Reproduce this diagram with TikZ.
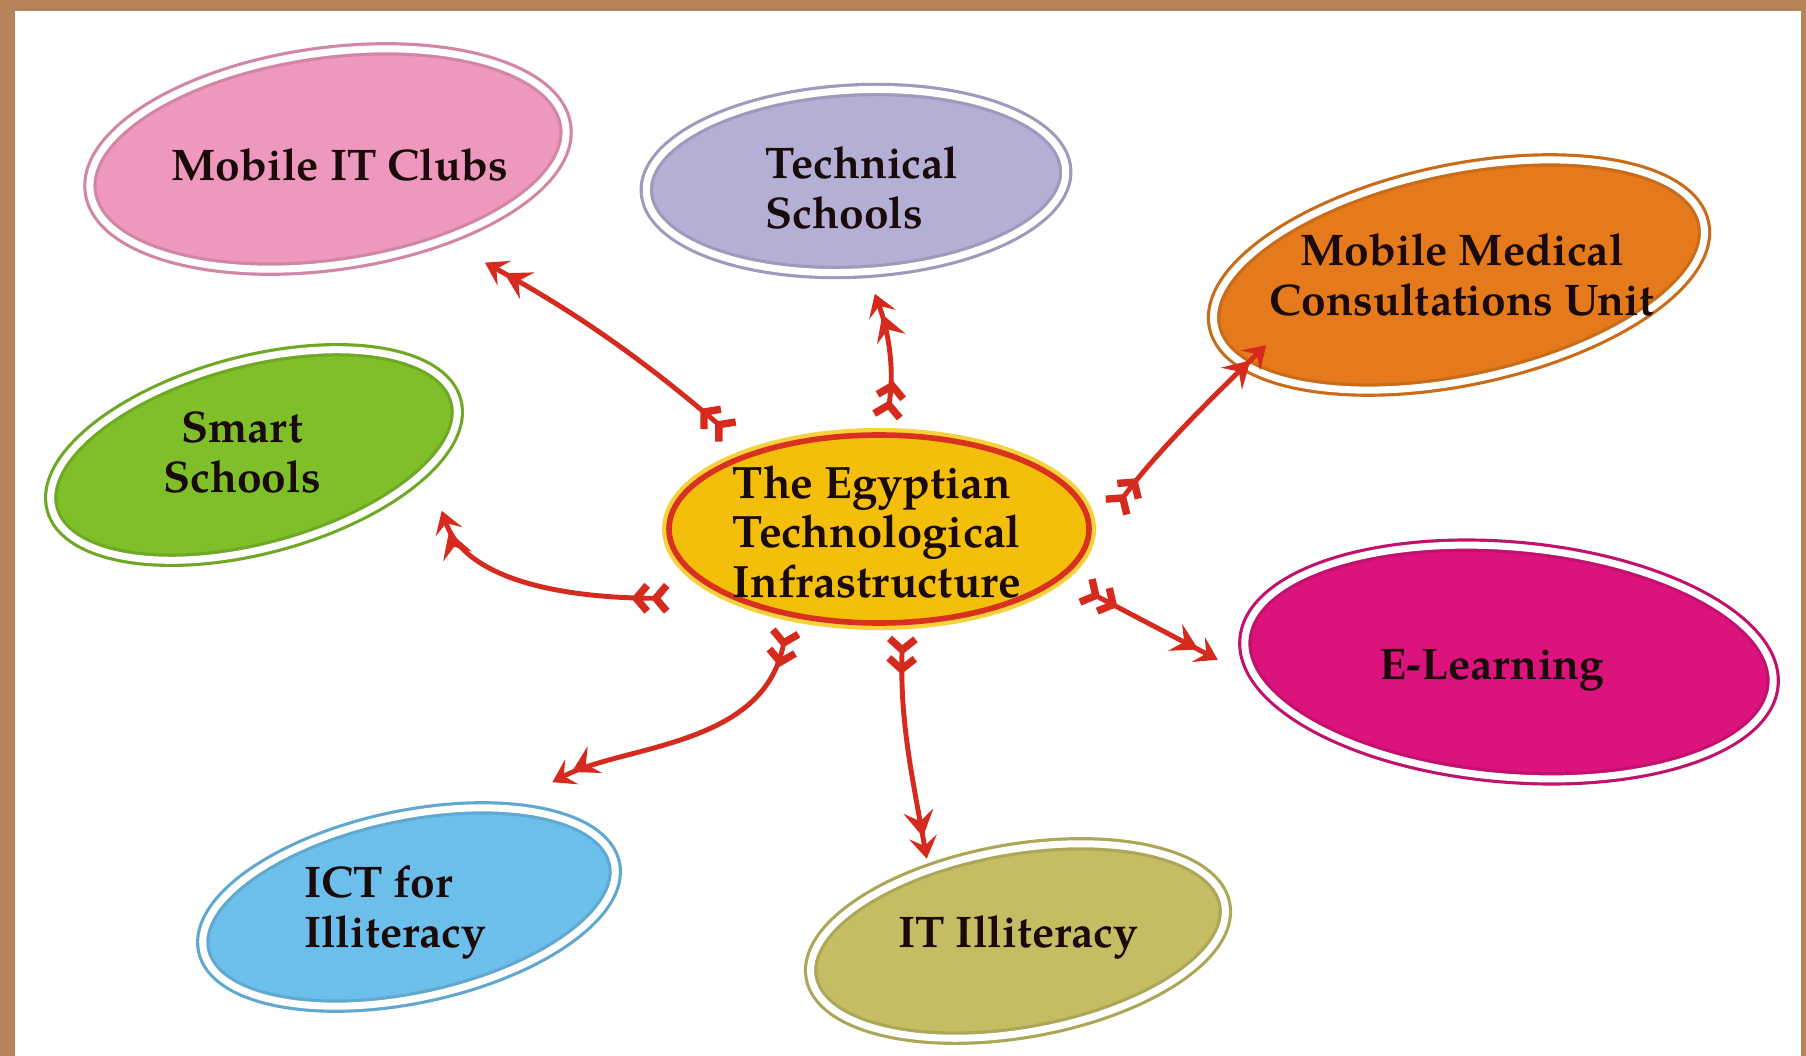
\documentclass[tikz,border=0pt]{standalone}
\usepackage{fontspec}
\setmainfont{TeX Gyre Pagella}
\usetikzlibrary{shapes.geometric,arrows.meta}

\definecolor{framebrown}{HTML}{B58259}
\definecolor{clubpink}{HTML}{EF98BD}
\definecolor{techlav}{HTML}{B3AFD5}
\definecolor{medorange}{HTML}{E47A1C}
\definecolor{smartgreen}{HTML}{7EBF2A}
\definecolor{hubyellow}{HTML}{F4BF0A}
\definecolor{hubred}{HTML}{D8321F}
\definecolor{hubglow}{HTML}{F8D23C}
\definecolor{elearnmag}{HTML}{DC137C}
\definecolor{ictblue}{HTML}{6DBFEB}
\definecolor{itolive}{HTML}{C4BD63}
\definecolor{arrowred}{HTML}{D52A1E}
\definecolor{inkdark}{HTML}{1A0A0A}

\newcommand{\flatlabel}[5][c]{\rotatebox{#2}{\rlap{\hspace*{#3}\makebox[0pt]{\smash{\raisebox{#4}{\raisebox{-.3em}{\begin{tabular}{@{}#1@{}}#5\end{tabular}}}}}}}}

\tikzset{
  labeltext/.style={font=\bfseries\fontsize{12.6}{14}\selectfont, text=inkdark},
  bubble/.style={ellipse, labeltext, fill=#1, draw=#1!88!black, line width=0.9pt, double=white, double distance=2pt, inner sep=0pt},
  hub/.style={ellipse, labeltext, font=\bfseries\fontsize{12.9}{14}\selectfont, fill=hubyellow, draw=hubred, line width=1.6pt, preaction={draw=hubglow, line width=4pt}, inner sep=0pt, minimum width=42mm, minimum height=18.8mm},
  feather/.style={draw=arrowred, line width=1.4pt, arrows={{Straight Barb[reversed,length=1.1mm,width=2.6mm,line width=2.1pt]Straight Barb[reversed,length=1.1mm,width=2.6mm,line width=2.1pt]}-{Stealth[length=2.6mm,width=3mm,inset=1mm]Stealth[length=2.2mm,width=2.8mm,inset=0.9mm]}}},
}

\begin{document}
\begin{tikzpicture}[x=0.1mm,y=0.1mm]
\useasboundingbox (0,0) rectangle (1806,-1056);
\fill[framebrown] (0,0) rectangle (1806,-1056);
\fill[white] (15,-11) rectangle (1801,-1056);

\node[hub] (hub) at (879,-529) {\flatlabel[l]{0}{-0.2mm}{-0.6mm}{The Egyptian\\Technological\\Infrastructure}};
\node[bubble=clubpink, minimum width=48mm, minimum height=21.2mm, rotate=8] (clubs) at (328,-159) {\flatlabel{-8}{1.2mm}{-0.9mm}{Mobile IT Clubs}};
\node[bubble=techlav, minimum width=42mm, minimum height=18.2mm, rotate=3] (tech) at (856,-181) {\flatlabel[l]{-3}{0.6mm}{-1mm}{Technical\\Schools}};
\node[bubble=medorange, minimum width=50mm, minimum height=21mm, rotate=12] (medical) at (1459,-275) {\flatlabel{-12}{0.3mm}{-0.3mm}{Mobile Medical\\Consultations Unit}};
\node[bubble=smartgreen, minimum width=41.8mm, minimum height=18.7mm, rotate=15] (smart) at (254,-455) {\flatlabel{-15}{-1.2mm}{0mm}{Smart\\Schools}};
\node[bubble=elearnmag, minimum width=53mm, minimum height=23mm, rotate=-5] (elearn) at (1509,-662) {\flatlabel{5}{-1.7mm}{-0.5mm}{E-Learning}};
\node[bubble=ictblue, minimum width=42mm, minimum height=18.2mm, rotate=12] (ict) at (409,-907) {\flatlabel[l]{-12}{-1.4mm}{-0.3mm}{ICT for\\Illiteracy}};
\node[bubble=itolive, minimum width=42mm, minimum height=18.3mm, rotate=10] (itill) at (1018,-941) {\flatlabel{-10}{0mm}{0.6mm}{IT Illiteracy}};

\draw[feather, shorten <=2.7mm, shorten >=4.6mm] (hub.149) to[bend right=6] (clubs.-43);
\draw[feather, shorten <=1.3mm, shorten >=2.2mm] (hub.87) to[out=80,in=-70] (tech.-86);
\draw[feather, shorten <=4.2mm, shorten >=-3mm] (hub.-4) to[bend left=5] (medical.191);
\draw[feather, shorten <=6mm, shorten >=4.3mm] (hub.205) to[out=180,in=-71] (smart.-20);
\draw[feather, shorten <=2.3mm, shorten >=4.3mm] (hub.-15) -- (elearn.189);
\draw[feather, shorten <=1.2mm, shorten >=5.3mm] (hub.-136) to[out=-100,in=28] (ict.34);
\draw[feather, shorten <=1mm, shorten >=1mm] (hub.-76) to[out=-92,in=100] (itill.131);
\end{tikzpicture}
\end{document}
